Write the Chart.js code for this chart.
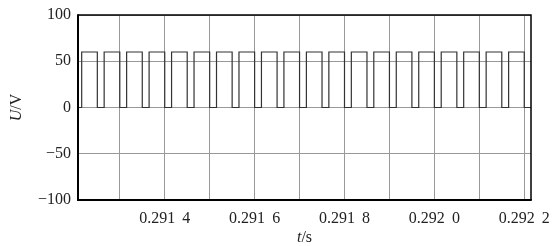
<!DOCTYPE html>
<html>
<head>
<meta charset="utf-8">
<script src="https://cdn.jsdelivr.net/npm/chart.js@4"></script>
<style>
  body { margin: 0; background: #fff; }
  canvas { display: block; }
</style>
</head>
<body>
<canvas id="pwm-chart" width="555" height="246"></canvas>
<script>
// edge times of the PWM pulses (s)
const riseTimes = [0.2912152, 0.2912652, 0.2913152, 0.2913652, 0.2914152, 0.2914652, 0.2915152,
    0.2915652, 0.2916152, 0.2916652, 0.2917152, 0.2917652, 0.2918152, 0.2918652, 0.2919152,
    0.2919652, 0.2920152, 0.2920652, 0.2921152, 0.2921652];
const fallTimes = [0.29125, 0.29130, 0.29135, 0.29140, 0.29145, 0.29150, 0.29155,
    0.29160, 0.29165, 0.29170, 0.29175, 0.29180, 0.29185, 0.29190, 0.29195,
    0.29200, 0.29205, 0.29210, 0.29215, 0.29220];
const highLevel = 60;
const lowLevel = 0;
const xRange = [0.291207, 0.292215];

const xGridValues = [0.2913, 0.2914, 0.2915, 0.2916, 0.2917, 0.2918, 0.2919, 0.2920, 0.2921, 0.2922];
const xTickLabels = ['', '0.291 \u20094', '', '0.291 \u20096', '', '0.291 \u20098', '', '0.292 \u20090', '', '0.292 \u20092'];
const yTickValues = [-100, -50, 0, 50, 100];
const yTickLabels = ['\u2212100', '\u221250', '0', '50', '100'];

const FONT = "'Liberation Serif', 'Times New Roman', serif";

function buildWave() {
    const pts = [{ x: xRange[0], y: lowLevel }];
    for (let i = 0; i < riseTimes.length; i++) {
        pts.push({ x: riseTimes[i], y: lowLevel });
        pts.push({ x: riseTimes[i], y: highLevel });
        pts.push({ x: fallTimes[i], y: highLevel });
        pts.push({ x: fallTimes[i], y: lowLevel });
    }
    pts.push({ x: xRange[1], y: lowLevel });
    return pts;
}

// frame + axis titles with italic quantity symbols
const framePlugin = {
    id: 'frame',
    afterDraw(chart) {
        const ctx = chart.ctx;
        const a = chart.chartArea;
        ctx.save();
        ctx.strokeStyle = '#000';
        ctx.lineWidth = 1.5;
        ctx.beginPath();
        ctx.moveTo(a.left, a.top);
        ctx.lineTo(a.right, a.top);
        ctx.lineTo(a.right, a.bottom);
        ctx.stroke();
        ctx.lineWidth = 2;
        ctx.beginPath();
        ctx.moveTo(a.left, a.top - 0.75);
        ctx.lineTo(a.left, a.bottom);
        ctx.lineTo(a.right + 0.75, a.bottom);
        ctx.stroke();

        drawTitle(ctx, 'U', '/V', 17, (a.top + a.bottom) / 2, -Math.PI / 2);
        drawTitle(ctx, 't', '/s', (a.left + a.right) / 2, 238, 0);
        ctx.restore();
    }
};

function drawTitle(ctx, sym, unit, cx, cy, angle) {
    ctx.save();
    ctx.translate(cx, cy);
    ctx.rotate(angle);
    ctx.fillStyle = '#222';
    ctx.textBaseline = 'middle';
    ctx.font = 'italic 16px ' + FONT;
    const w1 = ctx.measureText(sym).width;
    ctx.font = '16px ' + FONT;
    const w2 = ctx.measureText(unit).width;
    const x0 = -(w1 + w2) / 2;
    ctx.font = 'italic 16px ' + FONT;
    ctx.fillText(sym, x0, 0);
    ctx.font = '16px ' + FONT;
    ctx.fillText(unit, x0 + w1, 0);
    ctx.restore();
}

const ctx = document.getElementById('pwm-chart').getContext('2d');
new Chart(ctx, {
    type: 'line',
    data: {
        datasets: [{
            data: buildWave(),
            borderColor: '#333',
            borderWidth: 1.2,
            pointRadius: 0,
            tension: 0,
            fill: false
        }]
    },
    options: {
        responsive: false,
        animation: false,
        devicePixelRatio: 1,
        layout: { padding: { top: 15, right: 24, left: 0, bottom: 0 } },
        plugins: { legend: { display: false }, tooltip: { enabled: false } },
        scales: {
            x: {
                type: 'linear',
                min: xRange[0],
                max: xRange[1],
                afterBuildTicks(axis) {
                    axis.ticks = xGridValues.map(v => ({ value: v }));
                },
                afterFit(axis) {
                    axis.height = 46;
                    axis.paddingLeft = 0;
                    axis.paddingRight = 0;
                },
                grid: { color: '#999', lineWidth: 1, drawTicks: false },
                border: { display: false },
                ticks: {
                    autoSkip: false,
                    maxRotation: 0,
                    padding: 9,
                    color: '#222',
                    font: { family: FONT, size: 16 },
                    callback: (v, i) => xTickLabels[i]
                }
            },
            y: {
                min: -100,
                max: 100,
                afterBuildTicks(axis) {
                    axis.ticks = yTickValues.map(v => ({ value: v }));
                },
                afterFit(axis) {
                    axis.width = 78;
                    axis.paddingTop = 0;
                    axis.paddingBottom = 0;
                },
                grid: { color: '#999', lineWidth: 1, drawTicks: false },
                border: { display: false },
                ticks: {
                    padding: 7,
                    color: '#222',
                    font: { family: FONT, size: 16 },
                    callback: (v, i) => yTickLabels[i]
                }
            }
        }
    },
    plugins: [framePlugin]
});
</script>
</body>
</html>
